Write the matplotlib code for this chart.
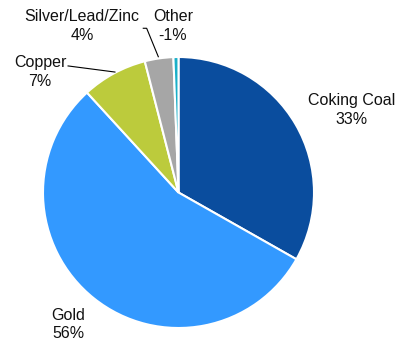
import matplotlib
matplotlib.use("Agg")
import matplotlib.pyplot as plt

plt.rcParams["font.family"] = ["Liberation Sans", "DejaVu Sans"]

# share of slice (as drawn), clockwise from 12 o'clock
segments = ["Coking Coal", "Gold", "Copper", "Silver/Lead/Zinc", "Other"]
shares = [33.2, 55.0, 7.8, 3.4, 0.6]
pct_labels = ["33%", "56%", "7%", "4%", "-1%"]
colors = ["#0A4D9E", "#3399FF", "#BCCB3C", "#A6A6A6", "#1AAFC8"]

# label centres in pie units (radius = 1)
label_xy = [(1.28, 0.61), (-0.815, -0.975), (-1.022, 0.889), (-0.712, 1.229), (-0.041, 1.229)]

fig = plt.figure(figsize=(4.0, 3.43), dpi=100)
ax = fig.add_axes([0, 0, 1, 1])

ax.pie(shares, colors=colors, startangle=90, counterclock=False,
       wedgeprops=dict(edgecolor="white", linewidth=1.5))

for name, pct, (x, y) in zip(segments, pct_labels, label_xy):
    ax.text(x, y, f"{name}\n{pct}", ha="center", va="center",
            fontsize=11.5, linespacing=1.3, color="#111111")

# leader lines
ax.plot([-0.815, -0.469], [0.934, 0.889], color="black", lw=0.8)
ax.plot([-0.260, -0.235, -0.149], [1.212, 1.212, 1.002], color="black", lw=0.8)

r_px = 135.5
ax.set_xlim(-178.5 / r_px, 221.5 / r_px)
ax.set_ylim(-150.5 / r_px, 192.5 / r_px)
ax.set_aspect("equal")
ax.axis("off")

fig.savefig("out.png", dpi=100)
